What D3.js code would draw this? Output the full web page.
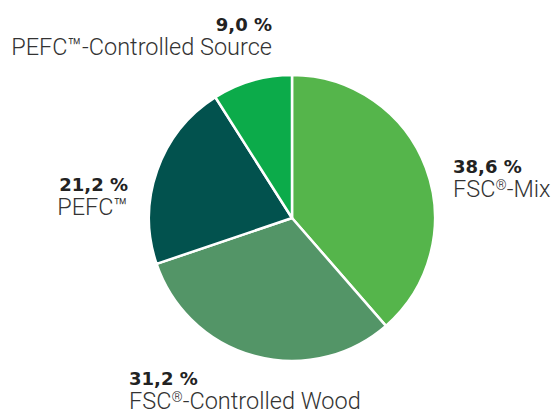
<!DOCTYPE html>
<html>
<head>
<meta charset="utf-8">
<script src="https://cdn.jsdelivr.net/npm/d3@7"></script>
<style>
  body { margin: 0; background: #fff; }
  .val { font-family: "DejaVu Sans", sans-serif; font-weight: 700; font-size: 18px; fill: #222; }
  .lab { font-family: Roboto, sans-serif; font-weight: 300; font-size: 23.5px; fill: #333; }
</style>
</head>
<body>
<div class="canvas"></div>
<script>
// data, clockwise from 12 o'clock
const categories = ['FSC®-Mix', 'FSC®-Controlled Wood', 'PEFC™', 'PEFC™-Controlled Source'];
const shares = [38.6, 31.2, 21.2, 9.0];
const valueLabels = ['38,6 %', '31,2 %', '21,2 %', '9,0 %'];
const colors = ['#55b54b', '#539567', '#02524e', '#0cab4a'];

const width = 555;
const height = 412;
const cx = 292, cy = 218, radius = 143;

const svg = d3.select('.canvas')
  .append('svg')
  .attr('width', width)
  .attr('height', height);

const data = categories.map((c, i) => ({ name: c, share: shares[i], label: valueLabels[i], color: colors[i] }));

const pie = d3.pie()
  .sort(null)
  .value(d => d.share);

const arc = d3.arc()
  .innerRadius(0)
  .outerRadius(radius);

const graph = svg.append('g')
  .attr('transform', `translate(${cx}, ${cy})`);

graph.selectAll('path')
  .data(pie(data))
  .enter()
  .append('path')
  .attr('d', arc)
  .attr('fill', d => d.data.color)
  .attr('stroke', '#fff')
  .attr('stroke-width', 2.5)
  .attr('stroke-linejoin', 'round');

// label placement (anchor, x, y of value baseline) per slice
const labelPos = [
  { anchor: 'start', x: 453, y: 173 },
  { anchor: 'start', x: 129, y: 385 },
  { anchor: 'end', x: 128, y: 191 },
  { anchor: 'end', x: 272, y: 31 }
];

const labels = svg.selectAll('g.label')
  .data(data)
  .enter()
  .append('g')
  .attr('class', 'label')
  .attr('text-anchor', (d, i) => labelPos[i].anchor);

labels.append('text')
  .attr('class', 'val')
  .attr('x', (d, i) => labelPos[i].x)
  .attr('y', (d, i) => labelPos[i].y)
  .text(d => d.label);

// names: the ® sign is set small and raised
labels.append('text')
  .attr('class', 'lab')
  .attr('x', (d, i) => labelPos[i].x)
  .attr('y', (d, i) => labelPos[i].y + 24)
  .each(function (d) {
    const t = d3.select(this);
    d.name.split(/(®)/).filter(s => s).forEach(part => {
      const ts = t.append('tspan').text(part);
      if (part === '®') ts.attr('font-size', '14px').attr('dy', -7);
      else if (t.selectAll('tspan').size() > 1 && d.name.indexOf('®') >= 0) ts.attr('dy', 7);
    });
  });
</script>
</body>
</html>
